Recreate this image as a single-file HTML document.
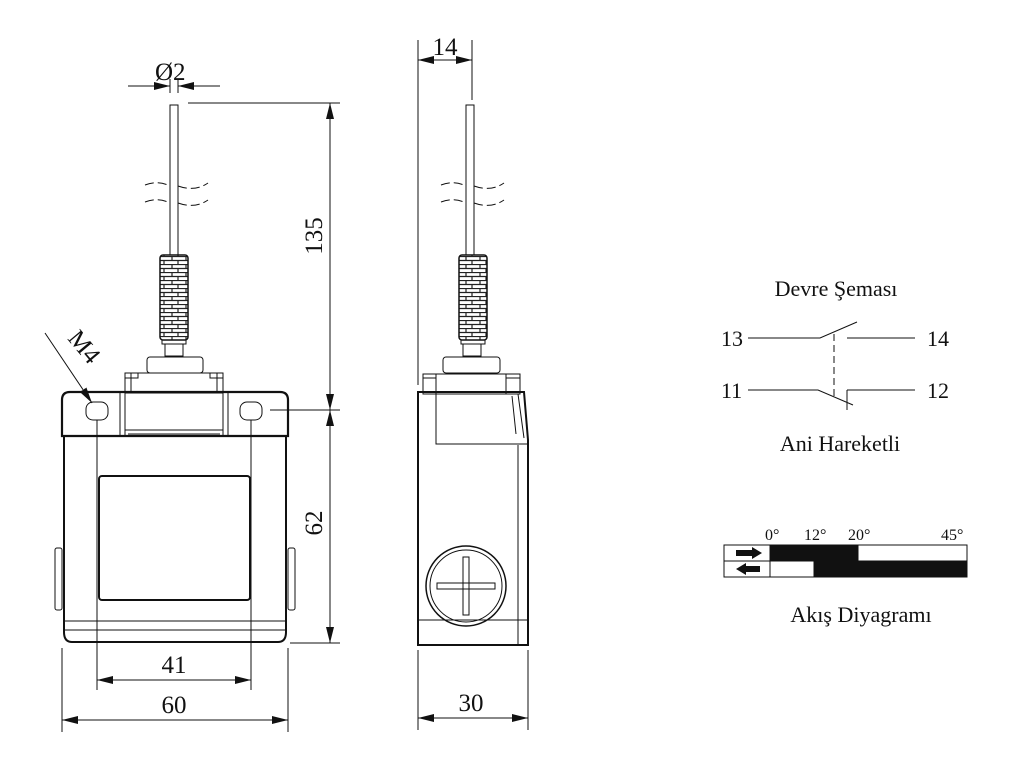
<!DOCTYPE html>
<html><head><meta charset="utf-8"><style>
html,body{margin:0;padding:0;background:#fff;}
svg{display:block;}
text{font-family:"Liberation Serif",serif;fill:#111;}
</style></head><body>
<svg width="1024" height="768" viewBox="0 0 1024 768" xmlns="http://www.w3.org/2000/svg">
<defs>
<marker id="ab" viewBox="0 0 16 8" refX="16" refY="4" markerWidth="16" markerHeight="8" markerUnits="userSpaceOnUse" orient="auto"><path d="M0,0L16,4L0,8z" fill="#111"/></marker>
<pattern id="sp" width="14" height="8" patternUnits="userSpaceOnUse"><rect width="14" height="8" fill="#fff"/><path d="M0,0.5H14M0,4.5H14M4,0.5V4.5M10,4.5V8.5" stroke="#222" stroke-width="1.2" fill="none"/></pattern>
</defs>
<g stroke="#111" fill="none" stroke-width="1">
<!-- FRONT VIEW -->
<rect x="170" y="105" width="8" height="150" fill="#fff"/>
<rect x="160" y="255" width="28" height="85" fill="url(#sp)" stroke-width="1.5" rx="3"/>
<rect x="162" y="340" width="24" height="4"/>
<rect x="165" y="344" width="18" height="12"/>
<rect x="147" y="357" width="56" height="16" rx="3"/>
<rect x="125" y="373" width="98" height="20"/>
<path d="M131,373V392M217,373V392M125,378H138V373M223,378H210V373"/>
<path d="M62,400Q62,392 70,392H280Q288,392 288,400V436H62Z" stroke-width="2.2"/>
<path d="M120,392V436M125,392V436M223,392V436M228,392V436M125,430H223M128,434H220"/>
<rect x="86" y="402" width="22" height="18" rx="7"/>
<rect x="240" y="402" width="22" height="18" rx="7"/>
<path d="M64,436H286V632Q286,642 278,642H72Q64,642 64,632Z" stroke-width="2"/>
<path d="M64,621H286M64,630H286"/>
<rect x="99" y="476" width="151" height="124" rx="3" stroke-width="2"/>
<rect x="55" y="548" width="7" height="62" rx="2"/>
<rect x="288" y="548" width="7" height="62" rx="2"/>
<path d="M145,185Q158,180 170,186M178,186Q195,192 208,183M145,202Q158,197 170,203M178,203Q195,209 208,200" stroke-dasharray="9,4"/>
<!-- dims front -->
<path d="M128,86H170M220,86H178M170,79V93M178,79V93"/>
<line x1="150" y1="86" x2="170" y2="86" marker-end="url(#ab)"/>
<line x1="198" y1="86" x2="178" y2="86" marker-end="url(#ab)"/>
<path d="M188,103H340M270,410H340M290,643H340"/>
<line x1="330" y1="256" x2="330" y2="103" marker-end="url(#ab)"/>
<line x1="330" y1="256" x2="330" y2="410" marker-end="url(#ab)"/>
<line x1="330" y1="526" x2="330" y2="410" marker-end="url(#ab)"/>
<line x1="330" y1="526" x2="330" y2="643" marker-end="url(#ab)"/>
<path d="M97,420V690M251,420V690M62,648V732M288,648V732"/>
<line x1="174" y1="680" x2="97" y2="680" marker-end="url(#ab)"/>
<line x1="174" y1="680" x2="251" y2="680" marker-end="url(#ab)"/>
<line x1="175" y1="720" x2="62" y2="720" marker-end="url(#ab)"/>
<line x1="175" y1="720" x2="288" y2="720" marker-end="url(#ab)"/>
<line x1="45" y1="333" x2="92" y2="403" marker-end="url(#ab)"/>
<!-- SIDE VIEW -->
<rect x="466" y="105" width="8" height="150" fill="#fff"/>
<path d="M441,185Q454,180 466,186M474,186Q491,192 504,183M441,202Q454,197 466,203M474,203Q491,209 504,200" stroke-dasharray="9,4"/>
<rect x="459" y="255" width="28" height="85" fill="url(#sp)" stroke-width="1.5" rx="3"/>
<rect x="461" y="340" width="24" height="4"/>
<rect x="463" y="344" width="18" height="12"/>
<rect x="443" y="357" width="57" height="16" rx="3"/>
<rect x="423" y="374" width="97" height="20"/>
<path d="M436,374V394M506,374V394M423,378H436M520,378H506"/>
<path d="M418,392H524L528,440V645H418Z" stroke-width="2"/>
<path d="M436,394V444H528M436,394H518L524,438M512,396L516,434"/>
<path d="M518,445V620H528"/>
<path d="M418,620H518V645"/>
<circle cx="466" cy="586" r="40" stroke-width="1.5"/>
<circle cx="466" cy="586" r="36"/>
<path d="M463,557V615H469V557ZM437,583H495V589H437Z" fill="#fff"/>
<path d="M463,589V583H469V589"/>
<path d="M418,40V385M472,40V100M418,650V730M528,650V730"/>
<line x1="445" y1="60" x2="418" y2="60" marker-end="url(#ab)"/>
<line x1="445" y1="60" x2="472" y2="60" marker-end="url(#ab)"/>
<line x1="473" y1="718" x2="418" y2="718" marker-end="url(#ab)"/>
<line x1="473" y1="718" x2="528" y2="718" marker-end="url(#ab)"/>
<!-- CIRCUIT -->
<path d="M748,338H820L857,322M847,338H915M748,390H818L853,405M847,390H915M847,390V410"/>
<path d="M834,334V400" stroke-dasharray="7,4"/>
<!-- CHART -->
<rect x="724" y="545" width="243" height="32"/>
<path d="M724,561H770M770,545V577"/>
<rect x="770" y="545" width="88" height="16" fill="#111"/>
<rect x="814" y="561" width="153" height="16" fill="#111"/>
</g>
<path d="M736,550H752V547L762,553L752,559V556H736Z" fill="#111"/>
<path d="M760,566H746V563L736,569L746,575V572H760Z" fill="#111"/>
<g font-size="25">
<text x="155" y="80">Ø2</text>
<text x="174" y="673" text-anchor="middle">41</text>
<text x="174" y="713" text-anchor="middle">60</text>
<text x="445" y="55" text-anchor="middle">14</text>
<text x="471" y="711" text-anchor="middle">30</text>
<text transform="translate(322,236) rotate(-90)" text-anchor="middle">135</text>
<text transform="translate(322,523) rotate(-90)" text-anchor="middle">62</text>
<text transform="translate(78,352) rotate(50)" text-anchor="middle">M4</text>
</g>
<g font-size="22">
<text x="836" y="296" text-anchor="middle">Devre Şeması</text>
<text x="721" y="346">13</text>
<text x="927" y="346">14</text>
<text x="721" y="398">11</text>
<text x="927" y="398">12</text>
<text x="840" y="451" text-anchor="middle">Ani Hareketli</text>
<text x="861" y="622" text-anchor="middle">Akış Diyagramı</text>
</g>
<g font-size="16">
<text x="765" y="540">0°</text>
<text x="804" y="540">12°</text>
<text x="848" y="540">20°</text>
<text x="941" y="540">45°</text>
</g>
</svg>
</body></html>
